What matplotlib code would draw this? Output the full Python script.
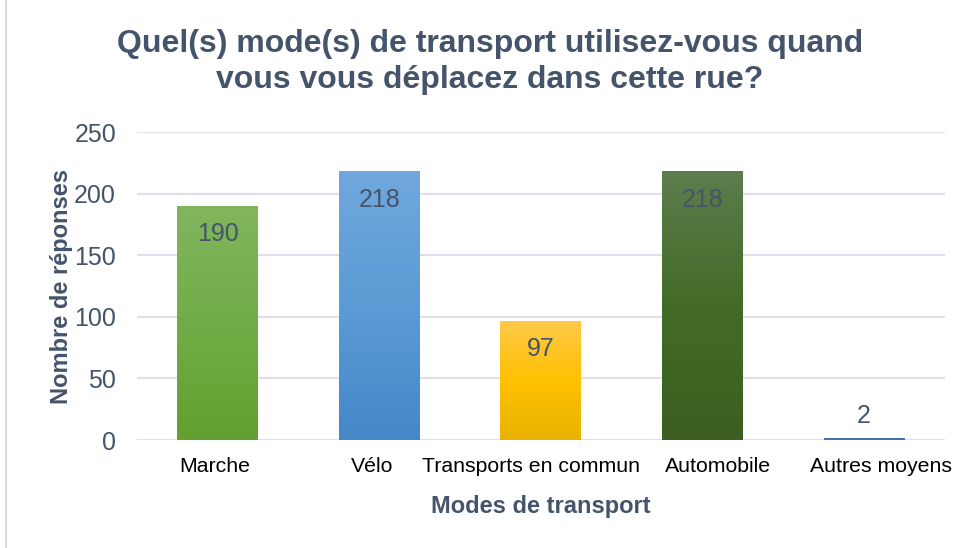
import numpy as np
import matplotlib.pyplot as plt
import matplotlib.transforms as mtransforms
from matplotlib.colors import LinearSegmentedColormap
from matplotlib.patches import Rectangle

plt.rcParams['font.family'] = ['Liberation Sans', 'DejaVu Sans']

categories = ['Marche', 'Vélo', 'Transports en commun', 'Automobile', 'Autres moyens']
values = [190, 218, 97, 218, 2]
# couleurs haut / milieu / bas de chaque barre (dégradé)
gradients = [
    ['#82B65E', '#70AD47', '#62A031'],
    ['#70A8DD', '#5B9BD5', '#4588C8'],
    ['#FFC94A', '#FFC000', '#E8B300'],
    ['#5C7D4E', '#436B27', '#3B5F21'],
    ['#4472A8', '#4472A8', '#4472A8'],
]
# décalage horizontal des étiquettes (px), comme Excel pour éviter le chevauchement
decalages = [-2.5, -7.5, -10, 16, 17]

texte = '#44546A'

fig = plt.figure(figsize=(9.64, 5.48), dpi=100)
ax = fig.add_axes([0.142, 0.197, 0.838, 0.562])

x = np.arange(len(categories))
bars = ax.bar(x, values, width=0.5, color='none', zorder=2)

grad = np.linspace(0, 1, 256).reshape(-1, 1)
for bar, cols in zip(bars, gradients):
    cmap = LinearSegmentedColormap.from_list('g', cols[::-1])
    x0, y0 = bar.get_x(), bar.get_y()
    w, h = bar.get_width(), bar.get_height()
    img = ax.imshow(grad, cmap=cmap, aspect='auto', origin='lower',
                    extent=[x0, x0 + w, y0, y0 + max(h, 1.2)], zorder=2)
    clip = Rectangle((x0, y0), w, max(h, 1.2), transform=ax.transData)
    img.set_clip_path(clip)

for xi, v in zip(x, values):
    if v > 20:
        ax.text(xi, v - 13, str(v), ha='center', va='top', fontsize=18, color=texte, zorder=3)
    else:
        ax.text(xi, v + 8, str(v), ha='center', va='bottom', fontsize=18, color=texte, zorder=3)

ax.set_xlim(-0.5, 4.5)
ax.set_ylim(0, 250)
ax.set_yticks(range(0, 251, 50))
ax.set_xticks(x)
ax.set_xticklabels(categories, fontsize=15.3, color='black')
ax.tick_params(axis='y', labelsize=18, labelcolor=texte, length=0, pad=15)
ax.tick_params(axis='x', length=0, pad=12)
for lab, dx in zip(ax.get_xticklabels(), decalages):
    lab.set_transform(lab.get_transform() + mtransforms.ScaledTranslation(dx / 100, 0, fig.dpi_scale_trans))
ax.grid(axis='y', color='#DDE1E7', linewidth=1.5, zorder=0)
ax.set_axisbelow(True)
for s in ax.spines.values():
    s.set_visible(False)

ax.set_ylabel('Nombre de réponses', fontsize=17, fontweight='bold', color=texte, labelpad=1)
ax.set_xlabel('Modes de transport', fontsize=17, fontweight='bold', color=texte, labelpad=14)

fig.text(0.508, 0.887, 'Quel(s) mode(s) de transport utilisez-vous quand\nvous vous déplacez dans cette rue?',
         ha='center', va='center', fontsize=23, fontweight='bold', color=texte, linespacing=1.25)

fig.patches.append(Rectangle((0.006, -0.01), 1.2, 1.2, transform=fig.transFigure,
                             fill=False, edgecolor='#D9D9D9', linewidth=1.5))

fig.savefig('out.png', dpi=100)
